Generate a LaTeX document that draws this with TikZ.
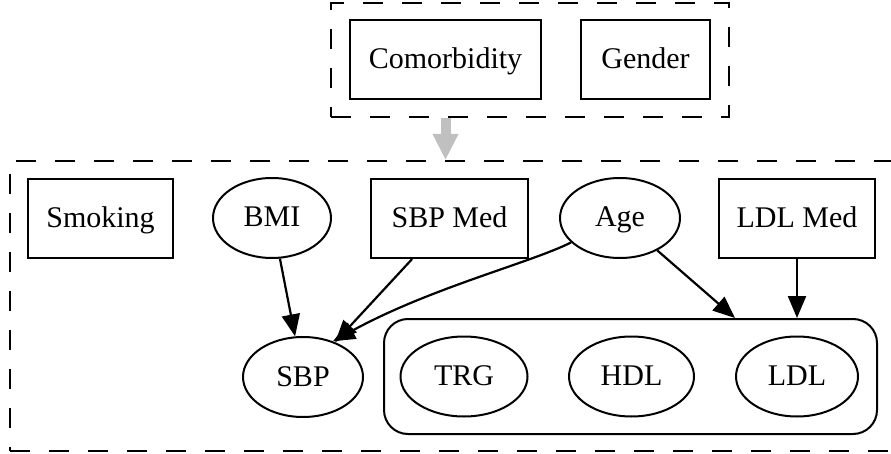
\documentclass[tikz,border=0pt]{standalone}
\usepackage{fontspec}
\setmainfont{Liberation Serif}
\usetikzlibrary{arrows.meta,shapes.geometric}
\tikzset{
  lbl/.style={font=\fontsize{30}{36}\selectfont, inner sep=0pt, text height=24pt, text depth=6pt},
  boxnode/.style={lbl, draw, line width=2pt, rectangle, minimum height=79pt},
  ellnode/.style={lbl, draw, line width=2pt, ellipse, minimum height=80pt},
  cluster/.style={draw, line width=2pt, dash pattern=on 20pt off 19pt, rectangle, inner sep=0pt},
  edge/.style={line width=2.2pt, -{Triangle[length=22pt,width=18pt]}},
  bigarrow/.style={line width=10pt, color={rgb,255:red,192;green,192;blue,192}, -{Triangle[length=26pt,width=24pt]}}
}
\begin{document}
\begin{tikzpicture}[x=1pt,y=-1pt]
\useasboundingbox (0,0) rectangle (891,454);
% clusters
\node[cluster, minimum width=398pt, minimum height=114pt] (topcl) at (530,60) {};
\node[cluster, minimum width=882pt, minimum height=290pt] (botcl) at (451,306) {};
% top nodes
\node[boxnode, minimum width=191pt] (comorb) at (445.5,59.5) {Comorbidity};
\node[boxnode, minimum width=129pt] (gender) at (645.5,59.5) {Gender};
% row 1
\node[boxnode, minimum width=145pt] (smoking) at (100.5,218.5) {Smoking};
\node[ellnode, minimum width=118pt] (bmi) at (272,218) {BMI};
\node[boxnode, minimum width=157pt] (sbpmed) at (449.5,218.5) {SBP Med};
\node[ellnode, minimum width=120pt] (age) at (620,218) {Age};
\node[boxnode, minimum width=156pt] (ldlmed) at (797,218.5) {LDL Med};
% row 2
\node[ellnode, minimum width=120pt] (sbp) at (303,377) {SBP};
\node[draw, line width=2pt, rounded corners=24pt, minimum width=493pt, minimum height=115pt, inner sep=0pt] (lipids) at (630.5,376.5) {};
\node[ellnode, minimum width=127pt] (trg) at (464,376.5) {TRG};
\node[ellnode, minimum width=125pt] (hdl) at (631.5,376.5) {HDL};
\node[ellnode, minimum width=122pt] (ldl) at (797,376.5) {LDL};
% edges
\draw[bigarrow] (comorb |- topcl.south) -- (comorb |- botcl.north);
\draw[edge] (bmi) -- (sbp);
\draw[edge] (sbpmed) -- (sbp);
\draw[edge] (age) .. controls (530,263) and (430,288) .. (sbp.50);
\draw[edge] (age) -- (lipids.north -| ldl.west);
\draw[edge] (ldlmed) -- (ldlmed |- lipids.north);
\end{tikzpicture}
\end{document}
